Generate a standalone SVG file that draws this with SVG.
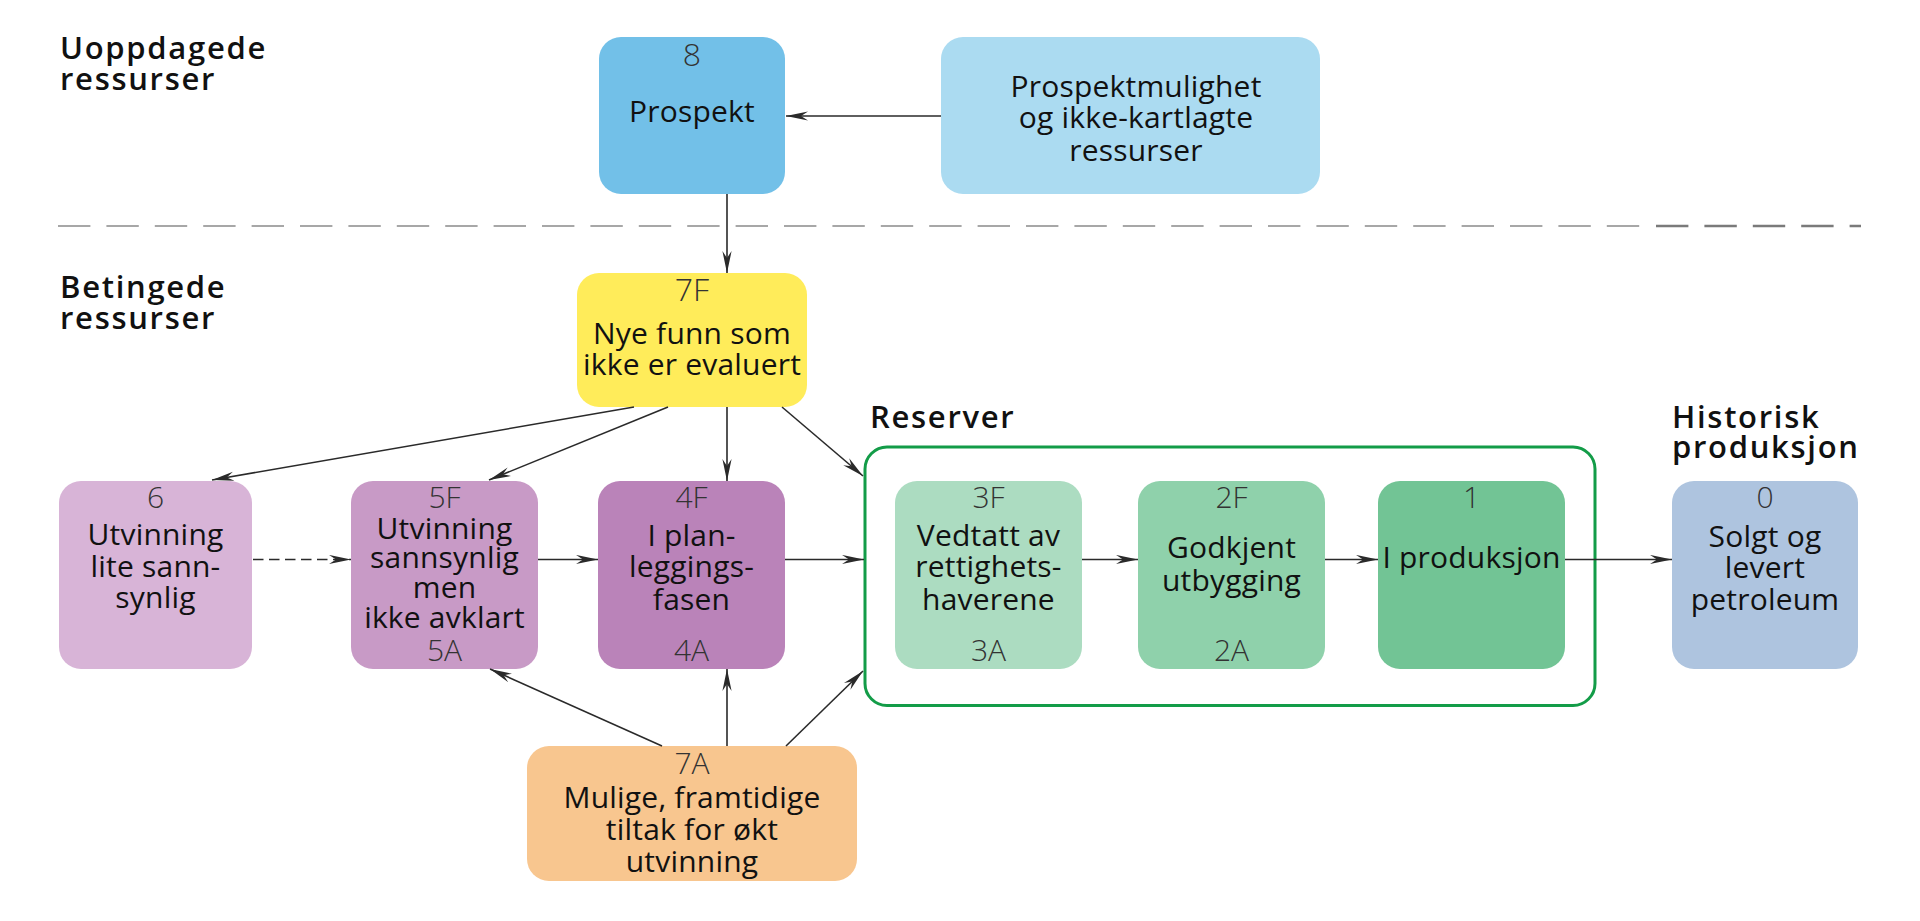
<svg xmlns="http://www.w3.org/2000/svg" width="1920" height="921" viewBox="0 0 1920 921">
<defs>
<marker id="ah" markerUnits="userSpaceOnUse" markerWidth="22" markerHeight="10" viewBox="0 0 22 10" refX="22" refY="5" orient="auto">
<path d="M0,0.4 L22,5 L0,9.6 L7,5 Z" fill="#2a2a2a"/>
</marker>
</defs>
<style>
.box{stroke:none}
.t{font-family:"Open Sans","Liberation Sans",sans-serif;font-size:30px;fill:#111;text-anchor:middle;letter-spacing:0.2px}
.n{font-family:"Open Sans","Liberation Sans",sans-serif;font-size:30px;font-weight:300;fill:#333;text-anchor:middle}
.nb{font-size:32px}
.h{font-family:"Open Sans","Liberation Sans",sans-serif;font-size:31px;font-weight:600;fill:#111;letter-spacing:1.7px}
.c{stroke:#2a2a2a;stroke-width:1.6;fill:none;marker-end:url(#ah)}
</style>
<rect width="1920" height="921" fill="#ffffff"/>

<g id="headings">
<text class="h" x="60" y="59">Uoppdagede</text>
<text class="h" x="60" y="90">ressurser</text>
<text class="h" x="60" y="298">Betingede</text>
<text class="h" x="60" y="329">ressurser</text>
<text class="h" x="870" y="428">Reserver</text>
<text class="h" x="1672" y="428">Historisk</text>
<text class="h" x="1672" y="458">produksjon</text>
</g>

<g id="divider">
<line x1="58" y1="226" x2="1640" y2="226" stroke="#8a8a8a" stroke-width="1.4" stroke-dasharray="32.4 16"/>
<line x1="1656" y1="226" x2="1861" y2="226" stroke="#7a7a7a" stroke-width="2.6" stroke-dasharray="32.4 16"/>
</g>

<g id="reserver-frame">
<rect x="865" y="447" width="730" height="258.5" rx="22" fill="none" stroke="#139c48" stroke-width="3"/>
</g>

<g id="node-8">
<rect class="box" x="599" y="37" width="186" height="157" rx="22" fill="#72c0e8"/>
<text class="n nb" x="692" y="66">8</text>
<text class="t" x="692" y="122">Prospekt</text>
</g>

<g id="node-prospektmulighet">
<rect class="box" x="941" y="37" width="379" height="157" rx="22" fill="#abdbf1"/>
<text class="t" x="1136" y="97">Prospektmulighet</text>
<text class="t" x="1136" y="128">og ikke-kartlagte</text>
<text class="t" x="1136" y="161">ressurser</text>
</g>

<g id="node-7F">
<rect class="box" x="577" y="273" width="230" height="134" rx="22" fill="#ffec5a"/>
<text class="n nb" x="692" y="301">7F</text>
<text class="t" x="692" y="344">Nye funn som</text>
<text class="t" x="692" y="375">ikke er evaluert</text>
</g>

<g id="node-6">
<rect class="box" x="59" y="481" width="193" height="188" rx="22" fill="#d8b4d7"/>
<text class="n" x="155.5" y="508">6</text>
<text class="t" x="155.5" y="545">Utvinning</text>
<text class="t" x="155.5" y="577">lite sann-</text>
<text class="t" x="155.5" y="608">synlig</text>
</g>

<g id="node-5F">
<rect class="box" x="351" y="481" width="187" height="188" rx="22" fill="#c89ac6"/>
<text class="n" x="444.5" y="508">5F</text>
<text class="t" x="444.5" y="539">Utvinning</text>
<text class="t" x="444.5" y="568">sannsynlig</text>
<text class="t" x="444.5" y="598">men</text>
<text class="t" x="444.5" y="628">ikke avklart</text>
<text class="n" x="444.5" y="661">5A</text>
</g>

<g id="node-4F">
<rect class="box" x="598" y="481" width="187" height="188" rx="22" fill="#ba83b9"/>
<text class="n" x="691.5" y="508">4F</text>
<text class="t" x="691.5" y="546">I plan-</text>
<text class="t" x="691.5" y="577">leggings-</text>
<text class="t" x="691.5" y="610">fasen</text>
<text class="n" x="691.5" y="661">4A</text>
</g>

<g id="node-3F">
<rect class="box" x="895" y="481" width="187" height="188" rx="22" fill="#acdcc1"/>
<text class="n" x="988.5" y="508">3F</text>
<text class="t" x="988.5" y="546">Vedtatt av</text>
<text class="t" x="988.5" y="577">rettighets-</text>
<text class="t" x="988.5" y="610">haverene</text>
<text class="n" x="988.5" y="661">3A</text>
</g>

<g id="node-2F">
<rect class="box" x="1138" y="481" width="187" height="188" rx="22" fill="#8fd1ab"/>
<text class="n" x="1231.5" y="508">2F</text>
<text class="t" x="1231.5" y="558">Godkjent</text>
<text class="t" x="1231.5" y="591">utbygging</text>
<text class="n" x="1231.5" y="661">2A</text>
</g>

<g id="node-1">
<rect class="box" x="1378" y="481" width="187" height="188" rx="22" fill="#72c495"/>
<text class="n" x="1471.5" y="508">1</text>
<text class="t" x="1471.5" y="568">I produksjon</text>
</g>

<g id="node-0">
<rect class="box" x="1672" y="481" width="186" height="188" rx="22" fill="#aec4df"/>
<text class="n" x="1765" y="508">0</text>
<text class="t" x="1765" y="547">Solgt og</text>
<text class="t" x="1765" y="578">levert</text>
<text class="t" x="1765" y="610">petroleum</text>
</g>

<g id="node-7A">
<rect class="box" x="527" y="746" width="330" height="135" rx="22" fill="#f8c68f"/>
<text class="n" x="692" y="774">7A</text>
<text class="t" x="692" y="808">Mulige, framtidige</text>
<text class="t" x="692" y="840">tiltak for økt</text>
<text class="t" x="692" y="872">utvinning</text>
</g>

<g id="connectors">
<line class="c" x1="941" y1="116" x2="786" y2="116"/>
<line class="c" x1="727" y1="194" x2="727" y2="273"/>
<line class="c" x1="634" y1="407" x2="212" y2="480"/>
<line class="c" x1="668" y1="407" x2="489" y2="480"/>
<line class="c" x1="727" y1="407" x2="727" y2="481"/>
<line class="c" x1="782" y1="407" x2="863" y2="476"/>
<line class="c" x1="253" y1="559.5" x2="351" y2="559.5" stroke-width="2.6" stroke-dasharray="10.5 5.5"/>
<line class="c" x1="538" y1="559.5" x2="598" y2="559.5"/>
<line class="c" x1="785" y1="559.5" x2="864" y2="559.5"/>
<line class="c" x1="1082" y1="559.5" x2="1138" y2="559.5"/>
<line class="c" x1="1325" y1="559.5" x2="1378" y2="559.5"/>
<line class="c" x1="1565" y1="559.5" x2="1672" y2="559.5"/>
<line class="c" x1="662" y1="746" x2="490" y2="669"/>
<line class="c" x1="727" y1="746" x2="727" y2="669"/>
<line class="c" x1="786" y1="746" x2="863" y2="671"/>
</g>
</svg>
